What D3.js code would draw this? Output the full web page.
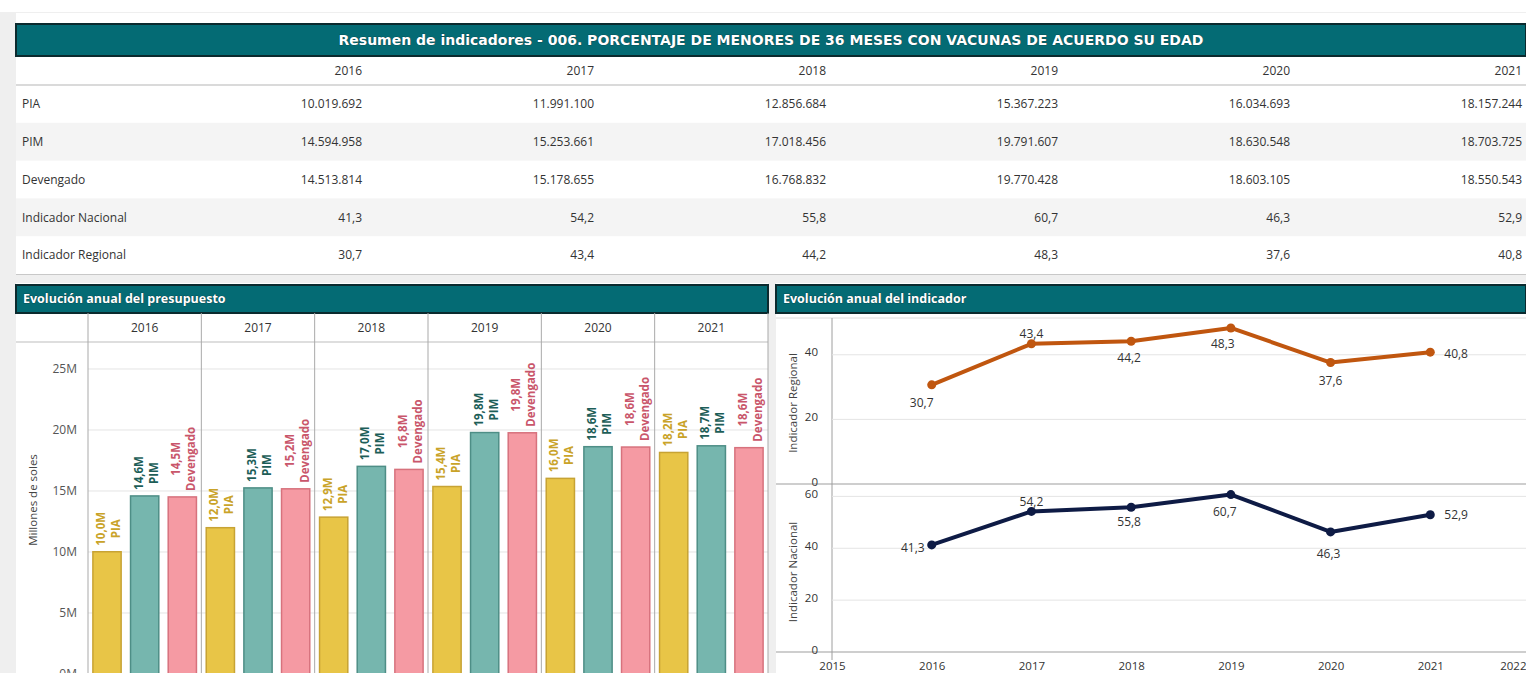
<!DOCTYPE html>
<html>
<head>
<meta charset="utf-8">
<script src="https://cdn.jsdelivr.net/npm/d3@7"></script>
<style>
  body { margin: 0; background: #fff; }
  svg { display: block; font-family: "Open Sans", "Noto Sans", sans-serif; }
</style>
</head>
<body>
<svg id="chart" width="1526" height="673"></svg>
<script>
// Data
const years = [2016, 2017, 2018, 2019, 2020, 2021];
const pia = [10019692, 11991100, 12856684, 15367223, 16034693, 18157244];
const pim = [14594958, 15253661, 17018456, 19791607, 18630548, 18703725];
const devengado = [14513814, 15178655, 16768832, 19770428, 18603105, 18550543];
const indNacional = [41.3, 54.2, 55.8, 60.7, 46.3, 52.9];
const indRegional = [30.7, 43.4, 44.2, 48.3, 37.6, 40.8];
const budgetSeries = ["PIA", "PIM", "Devengado"];
const budgetTicks = [0, 5e6, 10e6, 15e6, 20e6, 25e6];
const regionalTicks = [0, 20, 40];
const nacionalTicks = [0, 20, 40, 60];
const axisYears = [2015, 2016, 2017, 2018, 2019, 2020, 2021, 2022];
const rowLabels = ["PIA", "PIM", "Devengado", "Indicador Nacional", "Indicador Regional"];
const mainTitle = "Resumen de indicadores - 006. PORCENTAJE DE MENORES DE 36 MESES CON VACUNAS DE ACUERDO SU EDAD";

const loc = d3.formatLocale({ decimal: ",", thousands: ".", grouping: [3], currency: ["", ""] });
const fmtInt = loc.format(",d");
const fmt1 = loc.format(".1f");

const svg = d3.select("#chart");
const font = "'Open Sans', 'Noto Sans', sans-serif";

// Page background and cards
svg.append("rect").attr("width", 1526).attr("height", 673).attr("fill", "#efefef");
svg.append("rect").attr("width", 1526).attr("height", 12).attr("fill", "#fff");
svg.append("rect").attr("x", 16).attr("y", 13).attr("width", 1510).attr("height", 261).attr("fill", "#fff");
svg.append("rect").attr("x", 16).attr("y", 283).attr("width", 752).attr("height", 390).attr("fill", "#fff");
svg.append("rect").attr("x", 776).attr("y", 283).attr("width", 750).attr("height", 390).attr("fill", "#fff");
svg.append("line").attr("x1", 16).attr("x2", 1526).attr("y1", 274.5).attr("y2", 274.5).attr("stroke", "#c8c8c8");

function headerBar(x, y, w, h, text, size, anchor, family) {
  svg.append("rect").attr("x", x).attr("y", y).attr("width", w).attr("height", h)
    .attr("fill", "#046b74").attr("stroke", "#0b2a2e").attr("stroke-width", 2);
  svg.append("text")
    .attr("x", anchor === "middle" ? x + w / 2 : x + 7)
    .attr("y", y + h / 2)
    .attr("dy", "0.35em")
    .attr("text-anchor", anchor)
    .attr("fill", "#fff")
    .attr("font-weight", 700)
    .attr("font-size", size)
    .attr("font-family", family || font)
    .attr("stroke", "#0a3337").attr("stroke-width", 0.6).attr("paint-order", "stroke")
    .text(text);
}

// ---------- Summary table ----------
headerBar(16, 24, 1510, 32, mainTitle, 14, "middle", "'DejaVu Sans', sans-serif");

const colX = d3.scalePoint().domain(years).range([362, 1522]);
const rowY = d3.scaleBand().domain(rowLabels).range([85, 274]);

const rowValues = [pia, pim, devengado, indNacional, indRegional];

rowLabels.forEach((label, r) => {
  if (r % 2 === 1) {
    svg.append("rect").attr("x", 16).attr("y", rowY(label)).attr("width", 1510)
      .attr("height", rowY.bandwidth()).attr("fill", "#f4f4f4");
  }
});

svg.append("line").attr("x1", 16).attr("x2", 1526).attr("y1", 85).attr("y2", 85)
  .attr("stroke", "#b5b5b5");

svg.selectAll(".colhead").data(years).join("text")
  .attr("x", d => colX(d)).attr("y", 71).attr("dy", "0.35em")
  .attr("text-anchor", "end").attr("font-size", 12).attr("fill", "#333")
  .text(d => d);

rowLabels.forEach((label, r) => {
  const cy = rowY(label) + rowY.bandwidth() / 2;
  svg.append("text").attr("x", 22).attr("y", cy).attr("dy", "0.35em")
    .attr("font-size", 12).attr("fill", "#333").text(label);
  const f = r < 3 ? fmtInt : fmt1;
  svg.selectAll(null).data(rowValues[r].map((v, i) => ({ v, year: years[i] }))).join("text")
    .attr("x", d => colX(d.year)).attr("y", cy).attr("dy", "0.35em")
    .attr("text-anchor", "end").attr("font-size", 12).attr("fill", "#333")
    .text(d => f(d.v));
});

// ---------- Bar chart: Evolución anual del presupuesto ----------
headerBar(16, 285, 752, 28, "Evolución anual del presupuesto", 12.5, "start");

const budgetValues = [pia, pim, devengado];
const fillColors = { PIA: "#e8c547", PIM: "#76b6ae", Devengado: "#f59aa3" };
const edgeColors = { PIA: "#c7a334", PIM: "#4e8e86", Devengado: "#d7727d" };
const labelColors = { PIA: "#c9a329", PIM: "#1d5e58", Devengado: "#c9566b" };

const bx0 = d3.scaleBand().domain(years).range([88, 768]);
const bx1 = d3.scaleBand().domain(budgetSeries).range([0, bx0.bandwidth()])
  .paddingInner(0.25).paddingOuter(0.13);
const by = d3.scaleLinear().domain([0, 27.13e6]).range([674, 343]);

const bars = svg.append("g");

// gridlines
bars.selectAll(".grid").data(budgetTicks).join("line")
  .attr("x1", 88).attr("x2", 768)
  .attr("y1", d => by(d)).attr("y2", d => by(d))
  .attr("stroke", "#e4e4e4");

// year header row
bars.append("line").attr("x1", 16).attr("x2", 768).attr("y1", 342).attr("y2", 342).attr("stroke", "#bdbdbd");
bars.selectAll(".div").data(years.map(d => bx0(d)).concat([768])).join("line")
  .attr("x1", d => d).attr("x2", d => d).attr("y1", 313).attr("y2", 673)
  .attr("stroke", "#a9a9a9");
bars.selectAll(".yr").data(years).join("text")
  .attr("x", d => bx0(d) + bx0.bandwidth() / 2).attr("y", 328).attr("dy", "0.35em")
  .attr("text-anchor", "middle").attr("font-size", 12).attr("fill", "#333")
  .text(d => d);

// y axis
const yAxis = bars.append("g").attr("transform", "translate(88,0)")
  .call(d3.axisLeft(by).tickValues(budgetTicks).tickFormat(d => d / 1e6 + "M").tickSize(0).tickPadding(11));
yAxis.select(".domain").remove();
yAxis.selectAll("text").attr("font-size", 12).attr("fill", "#555").attr("font-family", font);

bars.append("text")
  .attr("transform", "translate(37,500) rotate(-90)")
  .attr("text-anchor", "middle").attr("font-size", 11.5).attr("fill", "#444")
  .text("Millones de soles");

const barData = years.flatMap((yr, i) => budgetSeries.map((s, j) => ({
  year: yr, series: s, value: budgetValues[j][i]
})));

bars.selectAll(".bar").data(barData).join("rect")
  .attr("x", d => bx0(d.year) + bx1(d.series))
  .attr("y", d => by(d.value))
  .attr("width", bx1.bandwidth())
  .attr("height", d => by(0) - by(d.value))
  .attr("fill", d => fillColors[d.series])
  .attr("stroke", d => edgeColors[d.series])
  .attr("stroke-width", 1.5);

// rotated two-line data labels above each bar
const lbl = bars.selectAll(".lbl").data(barData).join("g")
  .attr("transform", d => `translate(${bx0(d.year) + bx1(d.series) + bx1.bandwidth() / 2},${by(d.value) - 6}) rotate(-90)`)
  .attr("font-weight", 700).attr("font-size", 11.5)
  .attr("fill", d => labelColors[d.series]);
lbl.append("text").attr("class", "v").attr("y", -2).attr("text-anchor", "middle")
  .text(d => fmt1(d.value / 1e6) + "M");
lbl.append("text").attr("class", "n").attr("y", 13).attr("text-anchor", "middle")
  .text(d => d.series);
lbl.each(function () {
  const g = d3.select(this);
  const len = Math.max(g.select(".v").node().getComputedTextLength(), g.select(".n").node().getComputedTextLength());
  g.selectAll("text").attr("x", len / 2);
});

// ---------- Line charts: Evolución anual del indicador ----------
headerBar(776, 285, 750, 28, "Evolución anual del indicador", 12.5, "start");

const lx = d3.scaleLinear().domain([2015, 2022]).range([832, 1530]);
const yReg = d3.scaleLinear().domain([0, 52]).range([484, 316]);
const yNac = d3.scaleLinear().domain([0, 64]).range([652, 486]);

const lines = svg.append("g");
lines.append("line").attr("x1", 776).attr("x2", 1526).attr("y1", 318).attr("y2", 318).attr("stroke", "#dcdcdc");

function panel(yScale, ticks, values, color, title, titleY, offsets) {
  lines.selectAll(null).data(ticks.filter(t => t > 0)).join("line")
    .attr("x1", 832).attr("x2", 1526)
    .attr("y1", d => yScale(d)).attr("y2", d => yScale(d))
    .attr("stroke", "#e4e4e4");
  lines.append("line").attr("x1", 776).attr("x2", 1526)
    .attr("y1", yScale(0)).attr("y2", yScale(0)).attr("stroke", "#9e9e9e").attr("stroke-width", 1.2);
  const ax = lines.append("g").attr("transform", "translate(832,0)")
    .call(d3.axisLeft(yScale).tickValues(ticks).tickSize(0).tickPadding(14));
  ax.select(".domain").remove();
  ax.selectAll("text").attr("font-size", 11.5).attr("fill", "#333").attr("font-family", font)
    .attr("dy", "0.1em");
  lines.append("text")
    .attr("transform", `translate(797,${titleY}) rotate(-90)`)
    .attr("text-anchor", "middle").attr("font-size", 11.5).attr("fill", "#444")
    .text(title);

  const pts = values.map((v, i) => ({ year: years[i], v }));
  lines.append("path").datum(pts)
    .attr("fill", "none").attr("stroke", color).attr("stroke-width", 4)
    .attr("stroke-linejoin", "round")
    .attr("d", d3.line().x(d => lx(d.year)).y(d => yScale(d.v)));
  lines.selectAll(null).data(pts).join("circle")
    .attr("cx", d => lx(d.year)).attr("cy", d => yScale(d.v)).attr("r", 4.5)
    .attr("fill", color);
  lines.selectAll(null).data(pts).join("text")
    .attr("x", (d, i) => lx(d.year) + offsets[i][0])
    .attr("y", (d, i) => yScale(d.v) + offsets[i][1])
    .attr("dy", "0.35em")
    .attr("text-anchor", (d, i) => offsets[i][2])
    .attr("font-size", 12).attr("fill", "#333")
    .text(d => fmt1(d.v));
}

lines.append("line").attr("x1", 832).attr("x2", 832).attr("y1", 318).attr("y2", 660).attr("stroke", "#9e9e9e");

panel(yReg, regionalTicks, indRegional, "#c0560f", "Indicador Regional", 403,
  [[-10, 18, "middle"], [0, -10, "middle"], [-2, 17, "middle"], [-8, 16, "middle"], [0, 18, "middle"], [14, 2, "start"]]);
panel(yNac, nacionalTicks, indNacional, "#0e1b45", "Indicador Nacional", 572,
  [[-7, 3, "end"], [0, -10, "middle"], [-2, 15, "middle"], [-6, 17, "middle"], [-2, 22, "middle"], [14, 0, "start"]]);

const xAxis = lines.append("g").attr("transform", "translate(0,652)")
  .call(d3.axisBottom(lx).tickValues(axisYears).tickFormat(d3.format("d")).tickSize(0).tickPadding(10));
xAxis.select(".domain").remove();
xAxis.selectAll("text").attr("font-size", 11.5).attr("fill", "#333").attr("font-family", font);
// keep the last year label inside the window
xAxis.selectAll("text").filter(d => d === 2022).attr("text-anchor", "end").attr("x", -4);
</script>
</body>
</html>
